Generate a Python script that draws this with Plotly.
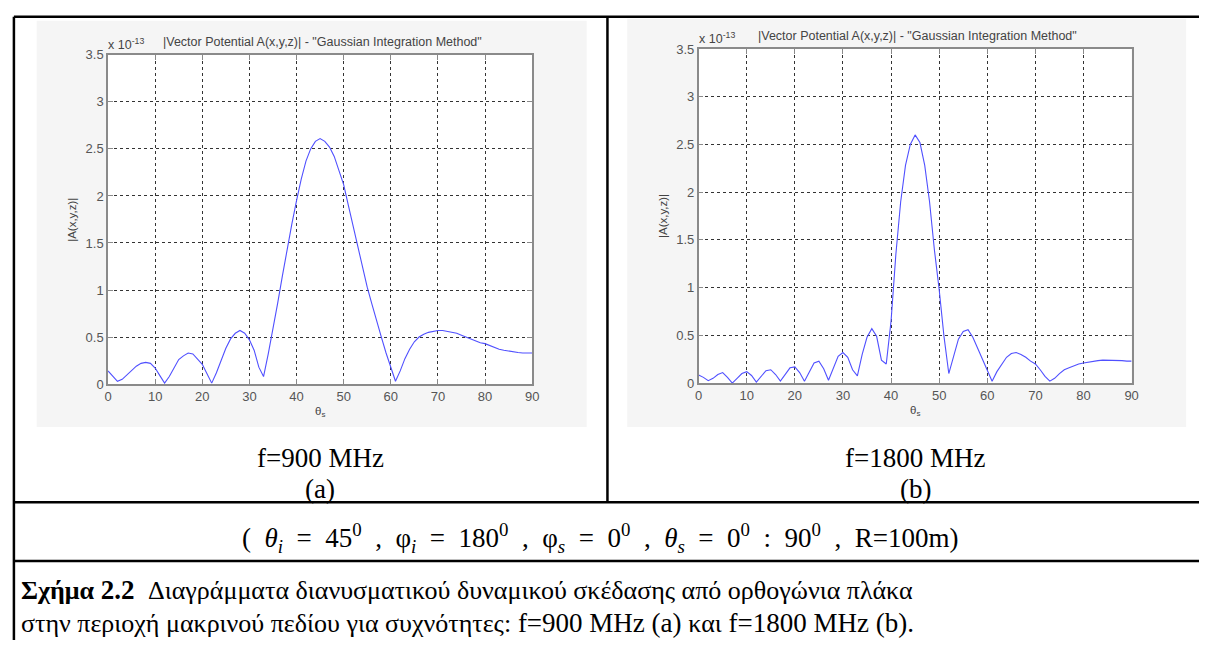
import plotly.graph_objects as go

W, H = 1206, 648

theta = list(range(0, 91))

# |A(x,y,z)| in units of 1e-13, f = 900 MHz
a_900 = [0.14, 0.09, 0.03, 0.05, 0.10, 0.15, 0.19, 0.22, 0.23, 0.22,
         0.17, 0.09, 0.01, 0.08, 0.17, 0.26, 0.30, 0.33, 0.32, 0.27,
         0.21, 0.11, 0.01, 0.12, 0.26, 0.38, 0.48, 0.54, 0.57, 0.54,
         0.47, 0.36, 0.18, 0.08, 0.32, 0.58, 0.86, 1.15, 1.44, 1.70,
         1.95, 2.18, 2.37, 2.50, 2.58, 2.61, 2.58, 2.52, 2.42, 2.28,
         2.12, 1.90, 1.68, 1.46, 1.24, 1.03, 0.85, 0.66, 0.50, 0.33,
         0.18, 0.03, 0.14, 0.27, 0.37, 0.45, 0.50, 0.53, 0.55, 0.56,
         0.57, 0.57, 0.56, 0.55, 0.54, 0.52, 0.50, 0.48, 0.46, 0.44,
         0.43, 0.41, 0.39, 0.37, 0.36, 0.35, 0.34, 0.335, 0.33, 0.33,
         0.33]

# |A(x,y,z)| in units of 1e-13, f = 1800 MHz
a_1800 = [0.085, 0.06, 0.025, 0.05, 0.09, 0.11, 0.06, 0.0, 0.05, 0.10,
          0.12, 0.08, 0.01, 0.07, 0.13, 0.14, 0.09, 0.02, 0.09, 0.16,
          0.17, 0.11, 0.02, 0.12, 0.21, 0.23, 0.15, 0.03, 0.15, 0.28,
          0.32, 0.27, 0.14, 0.075, 0.30, 0.48, 0.57, 0.49, 0.24, 0.20,
          0.65, 1.35, 1.90, 2.28, 2.50, 2.60, 2.52, 2.28, 1.90, 1.40,
          0.98, 0.49, 0.10, 0.28, 0.46, 0.54, 0.56, 0.48, 0.36, 0.24,
          0.12, 0.02, 0.12, 0.20, 0.27, 0.31, 0.32, 0.30, 0.27, 0.23,
          0.20, 0.14, 0.07, 0.02, 0.05, 0.10, 0.14, 0.16, 0.18, 0.20,
          0.21, 0.22, 0.23, 0.235, 0.24, 0.24, 0.24, 0.24, 0.235, 0.23,
          0.23]

x_ticks = [0, 10, 20, 30, 40, 50, 60, 70, 80, 90]
y_ticks = [0, 0.5, 1, 1.5, 2, 2.5, 3, 3.5]
y_tick_labels = ["0", "0.5", "1", "1.5", "2", "2.5", "3", "3.5"]

plot_title = '|Vector Potential A(x,y,z)| - "Gaussian Integration Method"'
freq_labels = ["f=900 MHz", "f=1800 MHz"]
sub_labels = ["(a)", "(b)"]
S = " &nbsp;"
params_text = ("(" + S + "<i>θ</i><sub><i>i</i></sub>" + S + "=" + S + "45<sup>0</sup>" + S + "," + S +
               "φ<sub><i>i</i></sub>" + S + "=" + S + "180<sup>0</sup>" + S + "," + S +
               "φ<sub><i>s</i></sub>" + S + "=" + S + "0<sup>0</sup>" + S + "," + S +
               "<i>θ</i><sub><i>s</i></sub>" + S + "=" + S + "0<sup>0</sup>" + S + ":" + S +
               "90<sup>0</sup>" + S + "," + S + "R=100m)")

GR_OPEN = '<span style="font-size:26px">'
GR_CLOSE = "</span>"


def greek(s):
    return GR_OPEN + s + GR_CLOSE


caption_1 = ("<b>" + greek("Σχήμα") + " 2.2</b>  " +
             greek("Διαγράμματα διανυσματικού δυναμικού σκέδασης από ορθογώνια πλάκα"))
caption_2 = (greek("στην περιοχή μακρινού πεδίου για συχνότητες:") +
             " f=900 MHz (a) " + greek("και") + " f=1800 MHz (b).")


def fx(p):
    return p / W


def fy(p):
    return 1 - p / H


# plot-area boxes in pixels (left, right, top, bottom)
boxes = [(105, 533, 49, 386), (701, 1138, 43, 385)]

fig = go.Figure()
fig.add_trace(go.Scatter(x=theta, y=a_900, mode="lines",
                         line=dict(color="rgb(80,80,255)", width=1.1),
                         xaxis="x", yaxis="y", showlegend=False))
fig.add_trace(go.Scatter(x=theta, y=a_1800, mode="lines",
                         line=dict(color="rgb(80,80,255)", width=1.1),
                         xaxis="x2", yaxis="y2", showlegend=False))

axis_font = dict(family="Liberation Sans, Arial", size=13, color="#555")
common_x = dict(range=[0, 90], tickvals=x_ticks, showgrid=True, gridcolor="#333",
                griddash="dot", gridwidth=1, showline=True, linecolor="#8a8a8a",
                linewidth=1.5, mirror="ticks", ticks="inside", ticklen=5,
                tickcolor="#8a8a8a", zeroline=False, tickfont=axis_font)
common_y = dict(range=[0, 3.5], tickvals=y_ticks, ticktext=y_tick_labels,
                showgrid=True, gridcolor="#333", griddash="dot", gridwidth=1,
                showline=True, linecolor="#8a8a8a", linewidth=1.5, mirror="ticks",
                ticks="inside", ticklen=5, tickcolor="#8a8a8a", zeroline=False,
                tickfont=axis_font)

(l1, r1, t1, b1), (l2, r2, t2, b2) = boxes
fig.update_layout(
    width=W, height=H,
    margin=dict(l=0, r=0, t=0, b=0),
    paper_bgcolor="white", plot_bgcolor="white",
    xaxis=dict(domain=[fx(l1), fx(r1)], anchor="y", **common_x),
    yaxis=dict(domain=[fy(b1), fy(t1)], anchor="x", **common_y),
    xaxis2=dict(domain=[fx(l2), fx(r2)], anchor="y2", **common_x),
    yaxis2=dict(domain=[fy(b2), fy(t2)], anchor="x2", **common_y),
)

shapes = []
# light grey figure backgrounds
for (gx0, gx1, gy0, gy1) in [(33, 588, 14, 430), (629, 1193, 12, 430)]:
    shapes.append(dict(type="rect", xref="paper", yref="paper", layer="below",
                       x0=fx(gx0), x1=fx(gx1), y0=fy(gy1), y1=fy(gy0),
                       fillcolor="#f5f5f5", line=dict(width=0)))
for (l, r, t, b) in boxes:
    shapes.append(dict(type="rect", xref="paper", yref="paper", layer="below",
                       x0=fx(l), x1=fx(r), y0=fy(b), y1=fy(t),
                       fillcolor="white", line=dict(width=0)))
# table borders
border = dict(color="black", width=2.5)
for (x0, y0, x1, y1) in [(10, 10, 1206, 10), (10, 10, 10, 648), (609, 10, 609, 507),
                         (10, 507, 1206, 507), (10, 567, 1206, 567)]:
    shapes.append(dict(type="line", xref="paper", yref="paper", layer="above",
                       x0=fx(x0), x1=fx(x1), y0=fy(y0), y1=fy(y1), line=border))
fig.update_layout(shapes=shapes)

ann = []
small = dict(family="Liberation Sans, Arial", size=12.5, color="#444")
label = dict(family="Liberation Sans, Arial", size=11.5, color="#444")
serif = dict(family="Liberation Serif, DejaVu Serif, Times New Roman", size=27, color="black")
cap = dict(family="Liberation Serif, DejaVu Serif, Times New Roman", size=27, color="black")
for i, (l, r, t, b) in enumerate(boxes):
    cx = (l + r) / 2
    ann.append(dict(text=plot_title, x=fx(cx + 2), y=fy(t - 13), xref="paper", yref="paper",
                    showarrow=False, font=small, xanchor="center", yanchor="middle"))
    ann.append(dict(text="x 10<sup>-13</sup>", x=fx(l - 2), y=fy(t - 1), xref="paper",
                    yref="paper", showarrow=False, font=small, xanchor="left",
                    yanchor="bottom"))
    ann.append(dict(text="|A(x,y,z)|", x=fx(l - 36), y=fy((t + b) / 2), xref="paper",
                    yref="paper", showarrow=False, font=label, textangle=-90,
                    xanchor="center", yanchor="middle"))
    ann.append(dict(text="θ<sub>s</sub>", x=fx(cx), y=fy(b + 29), xref="paper",
                    yref="paper", showarrow=False, font=label, xanchor="center",
                    yanchor="middle"))
    ann.append(dict(text=freq_labels[i], x=fx(cx), y=fy(462), xref="paper", yref="paper",
                    showarrow=False, font=serif, xanchor="center", yanchor="middle"))
    ann.append(dict(text=sub_labels[i], x=fx(cx), y=fy(493), xref="paper", yref="paper",
                    showarrow=False, font=serif, xanchor="center", yanchor="middle"))

ann.append(dict(text=params_text, x=fx(601), y=fy(544), xref="paper", yref="paper",
                showarrow=False, font=cap, xanchor="center", yanchor="middle"))
ann.append(dict(text=caption_1, x=fx(15), y=fy(597), xref="paper", yref="paper",
                showarrow=False, font=cap, xanchor="left", yanchor="middle"))
ann.append(dict(text=caption_2, x=fx(15), y=fy(631), xref="paper", yref="paper",
                showarrow=False, font=cap, xanchor="left", yanchor="middle"))
fig.update_layout(annotations=ann)

fig.write_html("out.html", config={"displayModeBar": False})
